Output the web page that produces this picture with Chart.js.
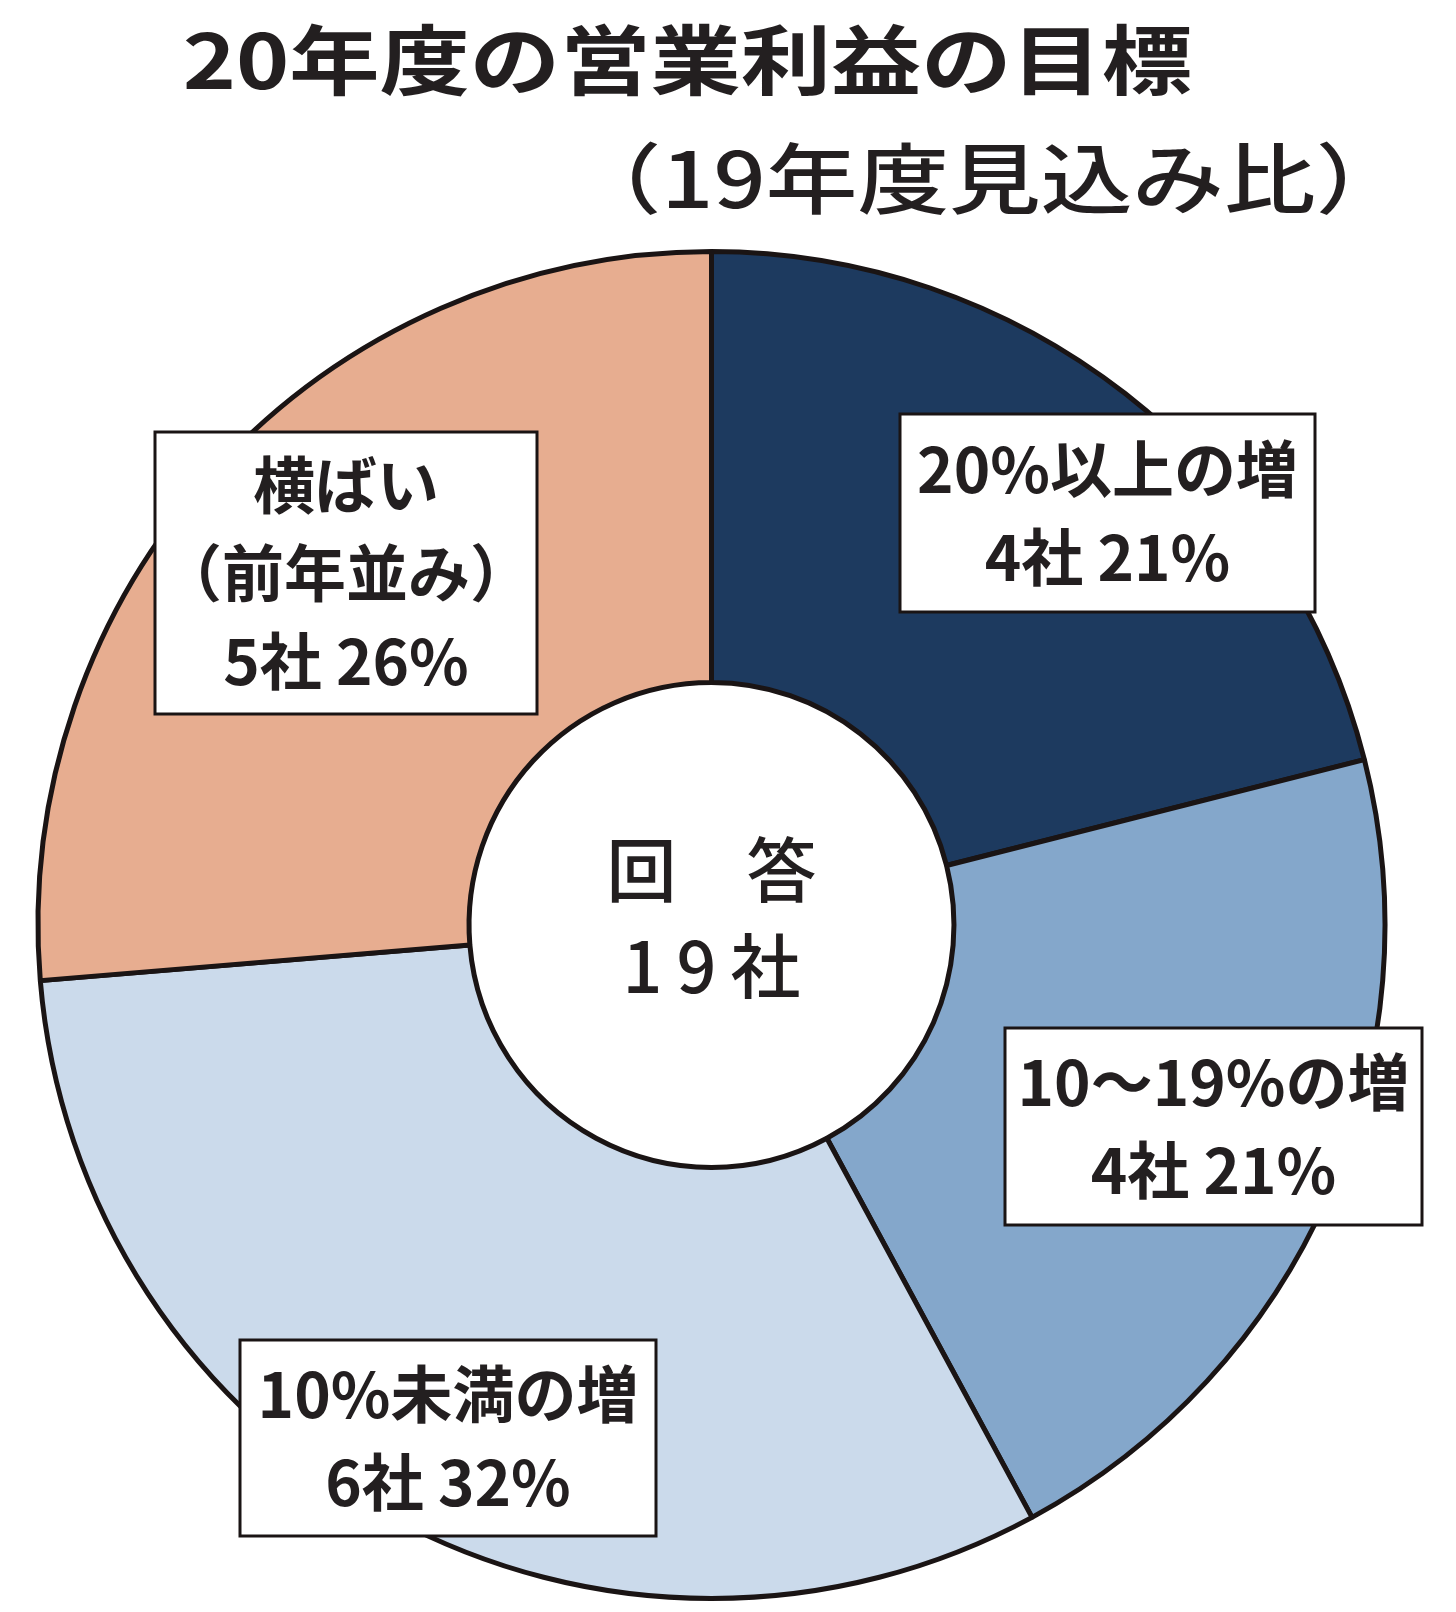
<!DOCTYPE html>
<html lang="ja">
<head>
<meta charset="utf-8">
<title>20年度の営業利益の目標</title>
<script src="https://cdn.jsdelivr.net/npm/chart.js@4.4.1/dist/chart.umd.min.js"></script>
<style>
  html, body { margin: 0; padding: 0; background: #fff; }
  #wrap { width: 1456px; height: 1612px; position: relative; }
</style>
</head>
<body>
<div id="wrap"><canvas id="chart" width="1456" height="1612"></canvas></div>
<script>
// ── data ──
const categories = ['20%以上の増', '10～19%の増', '10%未満の増', '横ばい\n（前年並み）'];
const counts = [4, 4, 6, 5];
const colors = ['#1d3a5f', '#84a7cb', '#cbdaeb', '#e7ad90'];
const titleText = '20年度の営業利益の目標';
const subtitleText = '（19年度見込み比）';
const centerLines = ['回　答', '19社'];

// ── layout (pixel boxes for the callouts, same order as categories) ──
const boxes = [
    { x: 900, y: 414, w: 415, h: 198 },
    { x: 1005, y: 1028, w: 417, h: 197 },
    { x: 240, y: 1340, w: 416, h: 196 },
    { x: 155, y: 432, w: 382, h: 282 },
];
const INK = '#231f20';
const total = counts.reduce((a, b) => a + b, 0);

// draw text stretched so its ink fills a box
function fitText(ctx, text, font, l, t, r, b) {
    ctx.font = font;
    const m = ctx.measureText(text);
    const inkW = m.actualBoundingBoxLeft + m.actualBoundingBoxRight;
    const inkH = m.actualBoundingBoxAscent + m.actualBoundingBoxDescent;
    ctx.save();
    ctx.translate(l, t);
    ctx.scale((r - l) / inkW, (b - t) / inkH);
    ctx.textAlign = 'left';
    ctx.textBaseline = 'alphabetic';
    ctx.fillText(text, m.actualBoundingBoxLeft, m.actualBoundingBoxAscent);
    ctx.restore();
}

const overlay = {
    id: 'overlay',
    afterDatasetsDraw(chart) {
        const ctx = chart.ctx;
        const arc = chart.getDatasetMeta(0).data[0];
        ctx.save();
        ctx.fillStyle = INK;

        // titles
        fitText(ctx, titleText, 'bold 80px "Noto Sans CJK JP"', 185, 24, 1191, 98);
        fitText(ctx, subtitleText, '500 78px "Noto Sans CJK JP"', 632, 142, 1345, 216);

        // centre text
        ctx.textAlign = 'center';
        ctx.textBaseline = 'middle';
        ctx.font = '500 70px "Noto Sans CJK JP"';
        ctx.fillText(centerLines[0], arc.x, 870);
        ctx.letterSpacing = '14px';
        ctx.fillText(centerLines[1], arc.x + 7, 966);
        ctx.letterSpacing = '0px';

        // callout boxes
        boxes.forEach((bx, i) => {
            ctx.fillStyle = '#fff';
            ctx.fillRect(bx.x, bx.y, bx.w, bx.h);
            ctx.lineWidth = 3;
            ctx.strokeStyle = '#1a1414';
            ctx.strokeRect(bx.x, bx.y, bx.w, bx.h);
            const pct = Math.round(counts[i] / total * 100);
            const lines = categories[i].split('\n').concat([`${counts[i]}社 ${pct}%`]);
            const step = 88;
            const cx = bx.x + bx.w / 2;
            const cy = bx.y + bx.h / 2;
            ctx.fillStyle = INK;
            ctx.font = '600 62px "Noto Sans CJK JP"';
            ctx.textAlign = 'center';
            ctx.textBaseline = 'middle';
            lines.forEach((ln, j) => {
                ctx.fillText(ln, cx, cy + (j - (lines.length - 1) / 2) * step);
            });
        });
        ctx.restore();
    }
};

new Chart(document.getElementById('chart'), {
    type: 'doughnut',
    data: {
        labels: categories,
        datasets: [{
            data: counts,
            backgroundColor: colors,
            borderColor: '#1a1414',
            borderWidth: 5,
        }]
    },
    options: {
        responsive: false,
        devicePixelRatio: 1,
        animation: false,
        cutout: '36%',
        layout: {
            padding: { left: 35, right: 68, top: 249, bottom: 11 }
        },
        plugins: {
            legend: { display: false },
            tooltip: { enabled: false },
            title: { display: false }
        }
    },
    plugins: [overlay]
});
</script>
</body>
</html>
